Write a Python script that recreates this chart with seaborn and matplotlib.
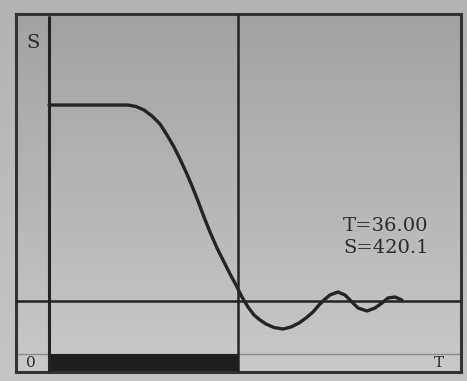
import numpy as np
import matplotlib
matplotlib.use("Agg")
import matplotlib.pyplot as plt
from matplotlib.colors import LinearSegmentedColormap
import pandas as pd
import seaborn as sns

# step response: T (time) and S (value)
t_vals = [0, 15.05, 16.57, 18.10, 19.62, 21.14, 22.48, 23.81, 24.95, 26.10,
          27.24, 28.38, 29.52, 30.67, 32.00, 33.33, 34.48, 35.62, 36.76, 37.90,
          39.05, 40.19, 41.33, 42.86, 44.57, 46.10, 47.62, 48.95, 50.29, 51.43,
          52.38, 53.52, 55.05, 56.38, 57.71, 58.86, 60.57, 62.10, 63.43, 64.57,
          65.90, 67.24]
s_vals = [729.1, 729.1, 726.6, 720.8, 710.7, 697.3, 678.9, 658.8, 638.7, 616.9,
          593.5, 568.3, 541.5, 516.4, 489.6, 466.2, 446.1, 427.6, 407.5, 390.8,
          377.4, 369.0, 362.3, 356.4, 353.9, 357.3, 364.0, 372.4, 382.4, 394.1,
          402.5, 410.9, 415.9, 410.9, 399.2, 389.1, 384.1, 389.1, 397.5, 405.9,
          407.5, 402.5]
setpoint = 400.0
cursor_t = 36.00
cursor_s = 420.1
t_range = (-6.29, 78.48)
s_range = (281.9, 881.6)
strip_top = 312.1

data = pd.DataFrame({"T": t_vals, "S": s_vals})

sns.set_style("white")
fig = plt.figure(figsize=(4.67, 3.81), dpi=100)

# outer screen background
bg = fig.add_axes([0, 0, 1, 1])
bg_cmap = LinearSegmentedColormap.from_list("bg", ["#b3b3b3", "#c5c5c5"])
bg.imshow(np.linspace(0, 1, 256).reshape(-1, 1), cmap=bg_cmap, aspect="auto",
          extent=[0, 1, 0, 1], origin="upper")
bg.set_axis_off()

ax = fig.add_axes([16 / 467, 9 / 381, 445 / 467, 358 / 381])
ax.set_xlim(*t_range)
ax.set_ylim(*s_range)
in_cmap = LinearSegmentedColormap.from_list("in", ["#a2a2a2", "#c9c9c9"])
ax.imshow(np.linspace(0, 1, 256).reshape(-1, 1), cmap=in_cmap, aspect="auto",
          extent=[t_range[0], t_range[1], s_range[0], s_range[1]], origin="upper",
          zorder=0)

line_c = "#242424"
# bottom strip and bar
ax.axhline(strip_top, color="#8a8a8a", lw=1, zorder=1)
ax.fill_between([0, cursor_t], s_range[0], strip_top, color="#1e1e1e", lw=0, zorder=2)
# axis line, setpoint and cursor
ax.plot([0, 0], [s_range[0], 876.5], color=line_c, lw=2.2, zorder=3)
ax.axhline(setpoint, color=line_c, lw=1.8, zorder=3)
ax.axvline(cursor_t, color=line_c, lw=1.8, zorder=3)

sns.lineplot(data=data, x="T", y="S", ax=ax, color=line_c, lw=2.4, zorder=4,
             sort=False, solid_joinstyle="round", solid_capstyle="round")

ax.set_xlim(*t_range)
ax.set_ylim(*s_range)
ax.set_xticks([])
ax.set_yticks([])
ax.set_xlabel("")
ax.set_ylabel("")
for sp in ax.spines.values():
    sp.set_visible(True)
    sp.set_color("#333333")
    sp.set_linewidth(2.2)

serif = ["DejaVu Serif"]
txt_c = "#2a2a2a"
ax.text(-3.05, 833, "S", family=serif, fontsize=14, color=txt_c,
        ha="center", va="center")
ax.text(-3.43, 297, "0", family=serif, fontsize=11, color=txt_c,
        ha="center", va="center")
ax.text(74.3, 297, "T", family=serif, fontsize=11, color=txt_c,
        ha="center", va="center")
ax.text(56.0, 526.5, f"T={cursor_t:.2f}", family=serif, fontsize=14,
        color=txt_c, ha="left", va="center")
ax.text(56.0, 489.6, f"S={cursor_s:.1f}", family=serif, fontsize=14,
        color=txt_c, ha="left", va="center")

fig.savefig("out.png", dpi=100)
